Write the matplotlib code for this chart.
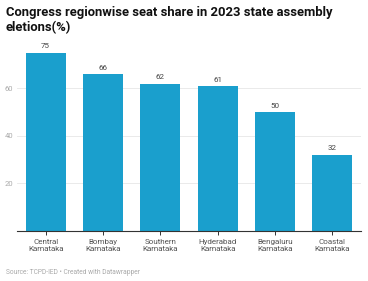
import matplotlib.pyplot as plt

regions = ['Central\nKarnataka', 'Bombay\nKarnataka', 'Southern\nKarnataka',
           'Hyderabad\nKarnataka', 'Bengaluru\nKarnataka', 'Coastal\nKarnataka']
seat_share = [75, 66, 62, 61, 50, 32]
y_ticks = [20, 40, 60]

plt.rcParams['font.family'] = ['Roboto', 'DejaVu Sans']

fig = plt.figure(figsize=(3.68, 2.81), dpi=100)
ax = fig.add_axes([17 / 368, 50 / 281, 344 / 368, 186 / 281])

x = range(len(regions))
bars = ax.bar(x, seat_share, width=0.7, color='#1a9fcd', zorder=2)

for bar, v in zip(bars, seat_share):
    ax.text(bar.get_x() + bar.get_width() / 2, v + 1.5, f'{v}',
            ha='center', va='bottom', fontsize=5.8, color='#444444')

ax.set_xlim(-0.5, len(regions) - 0.5)
ax.set_ylim(0, 78.3)
ax.set_xticks(list(x))
ax.set_xticklabels(regions, fontsize=5.8, color='#555555', linespacing=1.2)
ax.set_yticks(y_ticks)
ax.set_yticklabels([str(t) for t in y_ticks], fontsize=5.5, color='#aaaaaa')
ax.tick_params(axis='y', length=0, pad=2)
ax.tick_params(axis='x', length=3, width=0.7, color='#333333', pad=3)
for lbl in ax.get_yticklabels():
    lbl.set_horizontalalignment('left')
    lbl.set_x(-0.028)

ax.grid(axis='y', color='#e6e6e6', linewidth=0.6, zorder=0)
for s in ['top', 'right', 'left']:
    ax.spines[s].set_visible(False)
ax.spines['bottom'].set_color('#333333')
ax.spines['bottom'].set_linewidth(0.8)

fig.text(6 / 368, 1 - 6 / 281,
         'Congress regionwise seat share in 2023 state assembly\neletions(%)',
         ha='left', va='top', fontsize=9.4, fontweight='bold', color='#111111',
         linespacing=1.2)
fig.text(6 / 368, 1 - 273 / 281, 'Source: TCPD-IED • Created with Datawrapper',
         ha='left', va='center', fontsize=4.8, color='#aaaaaa')

fig.savefig('out.png', dpi=100, facecolor='white')
